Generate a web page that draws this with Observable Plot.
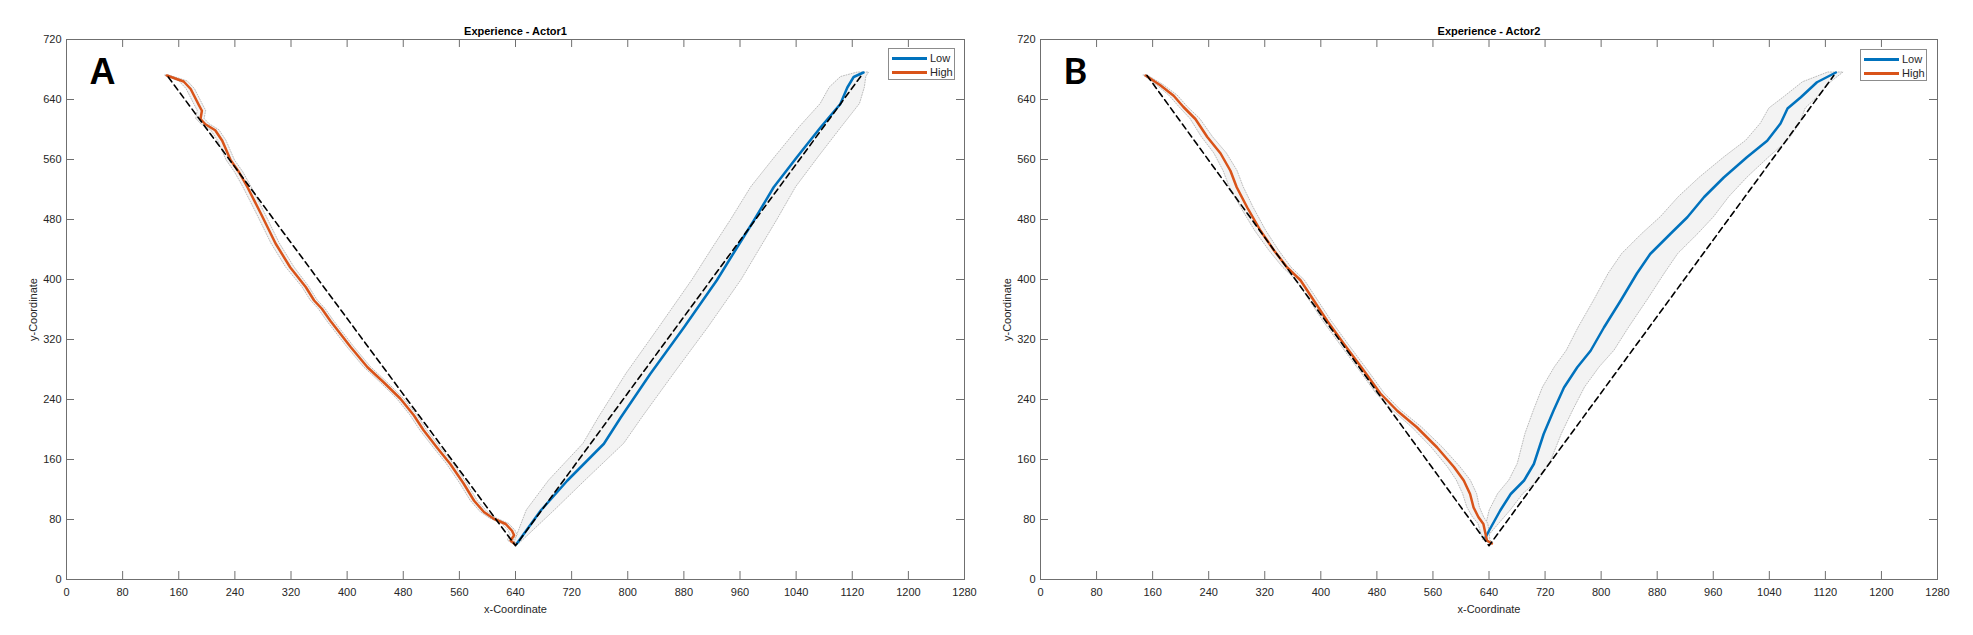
<!DOCTYPE html>
<html>
<head>
<meta charset="utf-8">
<script src="https://cdn.jsdelivr.net/npm/d3@7"></script>
<script src="https://cdn.jsdelivr.net/npm/@observablehq/plot@0.6"></script>
<style>
  body { margin: 0; background: #fff; font-family: "Liberation Sans", Arial, sans-serif; }
  #wrap { position: relative; width: 1973px; height: 635px; overflow: hidden; background: #fff; }
  .panel { position: absolute; top: 0; }
  .legend { position: absolute; border: 1px solid #8c8c8c; background: #fff; box-sizing: border-box;
            font-family: "Liberation Sans", Arial, sans-serif; font-size: 11px; color: #262626; }
  .legend .sw { position: absolute; left: 3px; width: 35px; height: 3px; }
  .legend .lb { position: absolute; left: 41px; line-height: 12px; }
</style>
</head>
<body>
<div id="wrap"></div>
<script>
// ---------- shared axes ----------
const xTicks = [0, 80, 160, 240, 320, 400, 480, 560, 640, 720, 800, 880, 960, 1040, 1120, 1200, 1280];
const yTicks = [0, 80, 160, 240, 320, 400, 480, 560, 640, 720];
const seriesNames = ["Low", "High"];
const seriesColors = ["#0072BD", "#D95319"];

// ---------- Panel A : Experience - Actor1 ----------
const titleA = "Experience - Actor1";
const idealA_x = [145, 640, 1133];
const idealA_y = [670, 45, 672];

const highA_x = [143, 155, 167, 177, 189, 193, 191, 198, 212, 222, 234, 246, 258, 277, 298, 319, 341, 353, 364, 376, 405, 429, 452, 476, 495, 509, 528, 547, 566, 581, 595, 609, 626, 635, 638, 633, 638];
const highA_y = [672, 668, 664, 654, 632, 625, 614, 607, 599, 585, 559, 543, 523, 488, 448, 416, 390, 372, 361, 345, 310, 283, 263, 241, 219, 199, 176, 154, 128, 105, 90, 81, 74, 65, 59, 52, 48];
const highA_s = [3, 5, 6, 6, 6, 6, 6, 6, 6, 6, 6, 6, 6, 6, 6, 6, 5, 5, 5, 5, 5, 5, 5, 5, 5, 5, 5, 5, 5, 5, 5, 5, 5, 5, 5, 4, 3];

const lowA_x = [642, 676, 714, 766, 790, 832, 880, 927, 956, 980, 1008, 1041, 1075, 1103, 1113, 1122, 1136];
const lowA_y = [48, 92, 132, 181, 216, 274, 336, 399, 443, 479, 523, 563, 603, 634, 656, 670, 676];
const lowA_s = [4, 20, 26, 29, 31, 34, 35, 35, 34, 33, 32, 31, 30, 28, 25, 18, 8];

// ---------- Panel B : Experience - Actor2 ----------
const titleB = "Experience - Actor2";
const idealB_x = [152, 640, 1132];
const idealB_y = [672, 45, 672];

const highB_x = [150, 171, 190, 204, 221, 238, 257, 271, 280, 295, 314, 333, 352, 371, 390, 409, 433, 461, 485, 509, 537, 566, 590, 604, 613, 618, 625, 632, 635, 637, 644];
const highB_y = [672, 659, 645, 630, 614, 590, 568, 545, 523, 496, 465, 439, 416, 399, 372, 345, 314, 279, 248, 225, 203, 176, 150, 132, 114, 96, 83, 74, 61, 52, 48];
const highB_s = [3, 5, 6, 6, 7, 8, 9, 10, 10, 9, 8, 7, 6, 6, 6, 6, 6, 6, 6, 6, 7, 8, 9, 10, 10, 9, 8, 7, 6, 5, 3];

const lowB_x = [635, 640, 656, 671, 690, 704, 718, 732, 747, 766, 785, 804, 828, 851, 870, 899, 923, 947, 975, 1008, 1037, 1056, 1066, 1085, 1108, 1135];
const lowB_y = [56, 65, 92, 114, 132, 154, 194, 225, 256, 283, 305, 336, 372, 408, 434, 461, 483, 510, 536, 563, 585, 608, 628, 643, 663, 676];
const lowB_s = [3, 6, 15, 18, 21, 23, 26, 28, 30, 32, 34, 36, 38, 40, 40, 40, 38, 36, 34, 32, 30, 28, 26, 24, 20, 11];

// ---------- helpers ----------
const zip = (xs, ys, ss) => xs.map((x, i) => ({x, y: ys[i], s: ss ? ss[i] : 0}));

function makePanel({title, letter, letterFont, ideal, low, high, width, marginLeft, marginRight}) {
  const marginTop = 39, marginBottom = 56, height = 635;
  const plotW = width - marginLeft - marginRight;
  const plotH = height - marginTop - marginBottom;
  const tick = 8;
  const axisColor = "#6f6f6f";
  const band = (data) => Plot.areaX(data, {
    x1: d => d.x - d.s, x2: d => d.x + d.s, y: "y",
    fill: "#f3f3f3", stroke: "#a0a0a0", strokeWidth: 0.7, strokeDasharray: "1,1.6"
  });
  return Plot.plot({
    width, height, marginLeft, marginRight, marginTop, marginBottom,
    x: {domain: [0, 1280]},
    y: {domain: [0, 720]},
    style: {fontFamily: '"Liberation Sans", Arial, sans-serif', fontSize: "11px", background: "#fff", color: "#262626", overflow: "visible"},
    marks: [
      band(low),
      band(high),
      Plot.line(low, {x: "x", y: "y", stroke: seriesColors[0], strokeWidth: 2.5, strokeLinejoin: "round"}),
      Plot.line(high, {x: "x", y: "y", stroke: seriesColors[1], strokeWidth: 2.5, strokeLinejoin: "round"}),
      Plot.line(ideal, {x: "x", y: "y", stroke: "#000", strokeWidth: 1.6, strokeDasharray: "6,4"}),
      Plot.frame({stroke: axisColor, strokeWidth: 1}),
      Plot.ruleX(xTicks, {x: d => d, insetTop: plotH - tick, stroke: axisColor}),
      Plot.ruleX(xTicks, {x: d => d, insetBottom: plotH - tick, stroke: axisColor}),
      Plot.ruleY(yTicks, {y: d => d, insetRight: plotW - tick, stroke: axisColor}),
      Plot.ruleY(yTicks, {y: d => d, insetLeft: plotW - tick, stroke: axisColor}),
      Plot.axisX({ticks: xTicks, anchor: "bottom", tickSize: 0, tickPadding: 9, label: null, tickFormat: d => String(d), fill: "#262626"}),
      Plot.axisY({ticks: yTicks, anchor: "left", tickSize: 0, tickPadding: 5, label: null, tickFormat: d => String(d), fill: "#262626"}),
      Plot.text([title], {text: d => d, frameAnchor: "top", dy: -5, lineAnchor: "bottom", fontWeight: "bold", fontSize: 11, fill: "#000"}),
      Plot.text(["x-Coordinate"], {text: d => d, frameAnchor: "bottom", dy: 30, lineAnchor: "middle", fontSize: 11, fill: "#262626"}),
      Plot.text(["y-Coordinate"], {text: d => d, frameAnchor: "left", dx: -33, rotate: -90, lineAnchor: "middle", textAnchor: "middle", fontSize: 11, fill: "#262626"}),
      Plot.text([letter], {text: d => d, frameAnchor: "top-left", dx: 23, dy: 44, lineAnchor: "bottom", textAnchor: "start", fontSize: 36, fontWeight: "bold", fontFamily: letterFont, fill: "#000"})
    ]
  });
}

function makeLegend(left, top) {
  const lg = document.createElement("div");
  lg.className = "legend";
  Object.assign(lg.style, {left: left + "px", top: top + "px", width: "67px", height: "32px"});
  seriesNames.forEach((name, i) => {
    const sw = document.createElement("div");
    sw.className = "sw";
    sw.style.top = (8 + i * 14) + "px";
    sw.style.background = seriesColors[i];
    const lb = document.createElement("div");
    lb.className = "lb";
    lb.style.top = (3 + i * 14) + "px";
    lb.textContent = name;
    lg.appendChild(sw);
    lg.appendChild(lb);
  });
  return lg;
}

const wrap = document.getElementById("wrap");

const panelA = document.createElement("div");
panelA.className = "panel";
panelA.style.left = "0px";
panelA.appendChild(makePanel({
  title: titleA, letter: "A", letterFont: '"Liberation Sans", Arial, sans-serif',
  ideal: zip(idealA_x, idealA_y), low: zip(lowA_x, lowA_y, lowA_s), high: zip(highA_x, highA_y, highA_s),
  width: 986, marginLeft: 66, marginRight: 22
}));
wrap.appendChild(panelA);

const panelB = document.createElement("div");
panelB.className = "panel";
panelB.style.left = "986px";
panelB.appendChild(makePanel({
  title: titleB, letter: "B", letterFont: 'Lato, "Open Sans", sans-serif',
  ideal: zip(idealB_x, idealB_y), low: zip(lowB_x, lowB_y, lowB_s), high: zip(highB_x, highB_y, highB_s),
  width: 987, marginLeft: 54, marginRight: 36
}));
wrap.appendChild(panelB);

wrap.appendChild(makeLegend(888, 48));
wrap.appendChild(makeLegend(1860, 49));
</script>
</body>
</html>
